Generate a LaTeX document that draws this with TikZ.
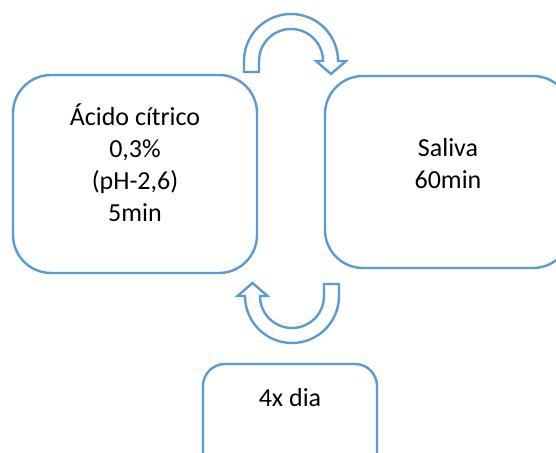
\documentclass[tikz,border=0pt]{standalone}
\usepackage{fontspec}
\setmainfont{Carlito}
\definecolor{acc}{RGB}{91,155,213}
\begin{document}
\begin{tikzpicture}[x=1pt,y=1pt,
  box/.style={draw=acc,line width=2.4pt,rounded corners=38pt,fill=white},
  lbl/.style={align=center,font=\fontsize{26}{32}\selectfont,text=black,inner sep=0pt},
  curvearrow/.style={draw=acc,line width=2.4pt,fill=white,line join=miter}]
\useasboundingbox (0,0) rectangle (556,452);
\clip (0,0) rectangle (556,452);
\fill[white] (0,0) rectangle (556,452);
% boxes
\draw[box] (13,377) rectangle (257,179);
\draw[box] (325,376) rectangle (571,184);
\draw[box,rounded corners=22pt] (203,88) rectangle (377,-40);
\node[lbl] (acid) at (135,289.5) {Ácido cítrico\\0,3\%\\(pH-2,6)\\5min};
\node[lbl] (sal) at (448,288.5) {Saliva\\60min};
\node[lbl] (dia) at (290,54) {4x dia};
% top curved arrow
\draw[curvearrow] (244,380) -- (244,391) arc[start angle=180,end angle=0,radius=47]
  -- (346,391) -- (331,378) -- (316,391) -- (323,391)
  arc[start angle=0,end angle=180,radius=32] -- (259,380) -- cycle;
% bottom curved arrow
\draw[curvearrow] (339,168) -- (339,156) arc[start angle=0,end angle=-180,radius=47]
  -- (237.5,156) -- (252.5,169) -- (267.5,156) -- (260,156)
  arc[start angle=180,end angle=360,radius=32] -- (324,168) -- cycle;
\end{tikzpicture}
\end{document}
